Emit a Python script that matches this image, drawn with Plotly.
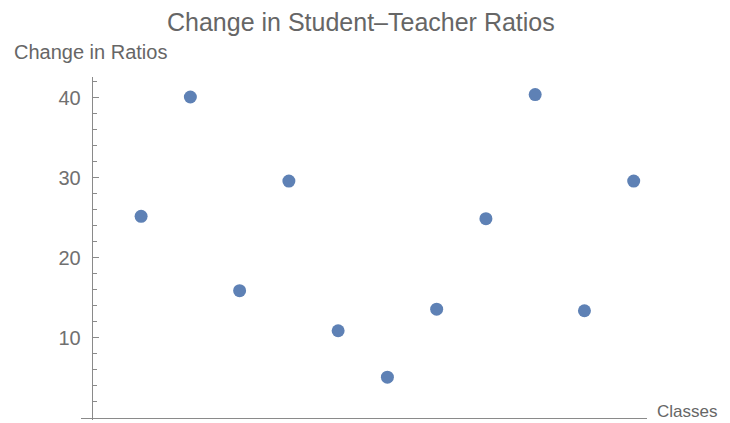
import plotly.graph_objects as go

classes = [1, 2, 3, 4, 5, 6, 7, 8, 9, 10, 11]
ratio_change = [25.2, 40.1, 15.9, 29.6, 10.9, 5.1, 13.6, 24.9, 40.4, 13.4, 29.6]
y_ticks = [10, 20, 30, 40]

X_RANGE = [-0.22, 11.27]
Y_RANGE = [-0.25, 42.6]

FONT = "Liberation Sans, Arial, sans-serif"
TXT = "#666666"
AX = "#8a8a8a"

# page body has an 8px margin, so the figure is drawn 8px smaller and shifted
OFF = 8
W, H = 730 - OFF, 423 - OFF
L, T, R, B = 81 - OFF, 77 - OFF, 83, 3
PW = 730 - 81 - 83  # plot width in px
PH = 423 - 77 - 3   # plot height in px
PL, PB = 81, 420    # plot left / bottom in page px


def px(xp):
    return (xp - PL) / PW


def py(yp):
    return (PB - yp) / PH


fig = go.Figure(go.Scatter(
    x=classes, y=ratio_change, mode="markers",
    marker=dict(size=13, color="#5E81B5", line=dict(width=0)),
    hoverinfo="x+y",
))

fig.update_layout(
    template="none",
    width=W, height=H,
    margin=dict(l=L, r=R, t=T, b=B, autoexpand=False),
    paper_bgcolor="white", plot_bgcolor="white",
    showlegend=False,
    font=dict(family=FONT, color=TXT),
    xaxis=dict(
        range=X_RANGE, showgrid=False, zeroline=False, automargin=False,
        showline=True, linecolor=AX, linewidth=1.4,
        showticklabels=False, ticks="",
        anchor="free",
        position=(0 - Y_RANGE[0]) / (Y_RANGE[1] - Y_RANGE[0]),
    ),
    yaxis=dict(
        range=Y_RANGE, showgrid=False, zeroline=False, automargin=False,
        showline=True, linecolor=AX, linewidth=1.4,
        tickvals=y_ticks, ticks="inside", ticklen=6, tickwidth=1.4, tickcolor=AX,
        tickfont=dict(size=20, color="#707070", family=FONT),
        ticklabelstandoff=7,
        minor=dict(dtick=2, tick0=0, ticks="inside", ticklen=4, tickwidth=1.1, tickcolor=AX, showgrid=False),
        anchor="free",
        position=(0 - X_RANGE[0]) / (X_RANGE[1] - X_RANGE[0]),
    ),
    annotations=[
        dict(text="Change in Student\u2013Teacher Ratios", xref="paper", yref="paper",
             x=px(361), y=py(22), xanchor="center", yanchor="middle",
             showarrow=False, font=dict(size=25, color=TXT, family=FONT)),
        dict(text="Change in Ratios", xref="paper", yref="paper",
             x=px(12), y=py(52), xanchor="left", yanchor="middle",
             showarrow=False, font=dict(size=20, color=TXT, family=FONT)),
        dict(text="Classes", xref="paper", yref="paper",
             x=px(655), y=py(411), xanchor="left", yanchor="middle",
             showarrow=False, font=dict(size=17, color=TXT, family=FONT)),
    ],
)

fig.write_html("out.html")
